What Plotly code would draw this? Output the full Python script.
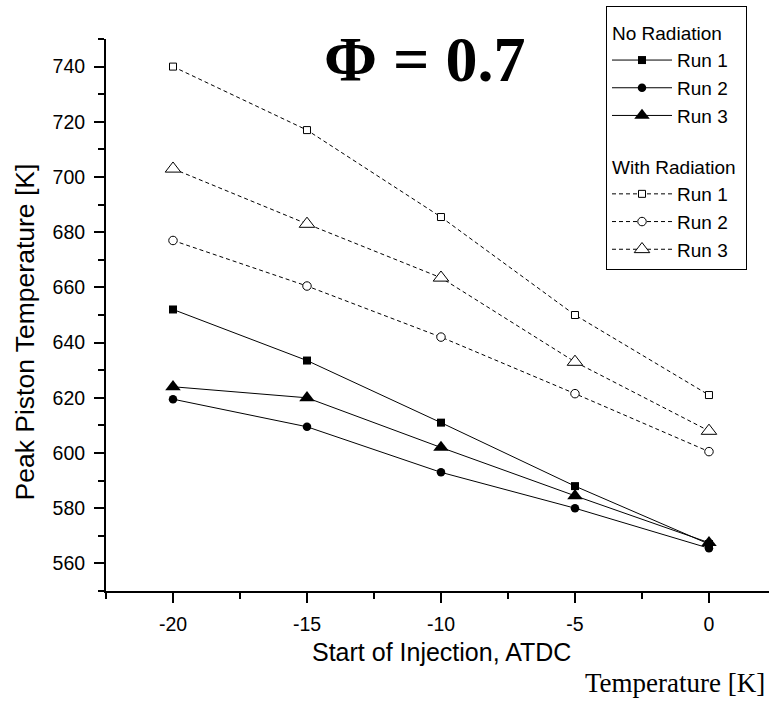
import plotly.graph_objects as go

# ---- data ----
soi = [-20, -15, -10, -5, 0]
no_rad_run1 = [652, 633.5, 611, 588, 567]
no_rad_run2 = [619.5, 609.5, 593, 580, 565.5]
no_rad_run3 = [624, 620, 602, 584.5, 567.5]
rad_run1 = [740, 717, 685.5, 650, 621]
rad_run2 = [677, 660.5, 642, 621.5, 600.5]
rad_run3 = [703, 683, 663.5, 633, 608]
run_names = ["Run 1", "Run 2", "Run 3"]
group_titles = ["No Radiation", "With Radiation"]
x_tick_vals = [-20, -15, -10, -5, 0]
x_tick_text = ["-20", "-15", "-10", "-5", "0"]
y_tick_vals = [560, 580, 600, 620, 640, 660, 680, 700, 720, 740]
y_tick_text = ["560", "580", "600", "620", "640", "660", "680", "700", "720", "740"]

W, H = 769, 709
L, R, T, B = 106, 0, 39, 118
PW, PH = W - L - R, H - T - B


def px(xp):
    return (xp - L) / PW


def py(yp):
    return (H - B - yp) / PH


SANS = "Liberation Sans"
SERIF = "Liberation Serif"

fig = go.Figure()

filled = [("square", 8), ("circle", 8.5), ("triangle-up", 13.5)]
for name, ys, (sym, sz) in zip(run_names, [no_rad_run1, no_rad_run2, no_rad_run3], filled):
    fig.add_trace(go.Scatter(
        x=soi, y=ys, name=name, mode="lines+markers",
        line=dict(color="black", width=1),
        marker=dict(symbol=sym, size=sz, color="black", line=dict(width=0)),
        legendgroup="nr", legendgrouptitle=dict(text=group_titles[0]),
    ))

opens = [("square", 7), ("circle", 8.5), ("triangle-up", 13.5)]
for name, ys, (sym, sz) in zip(run_names, [rad_run1, rad_run2, rad_run3], opens):
    fig.add_trace(go.Scatter(
        x=soi, y=ys, name=name, mode="lines+markers",
        line=dict(color="black", width=1, dash="4px,3px"),
        marker=dict(symbol=sym, size=sz, color="white", line=dict(color="black", width=1)),
        legendgroup="wr", legendgrouptitle=dict(text=group_titles[1]),
    ))

axis_common = dict(
    showline=True, linecolor="black", linewidth=2, mirror=False,
    ticks="outside", ticklen=10, tickwidth=2, tickcolor="black",
    showgrid=False, zeroline=False,
    tickfont=dict(family=SANS, size=19.5, color="black"),
    ticklabelstandoff=5,
)

fig.update_xaxes(range=[-22.5, 2.24], tickmode="array", tickvals=x_tick_vals, ticktext=x_tick_text,
                 minor=dict(tick0=0, dtick=2.5, ticklen=6, tickwidth=2, tickcolor="black", ticks="outside"),
                 **axis_common)
fig.update_yaxes(range=[550, 750], tickmode="array", tickvals=y_tick_vals, ticktext=y_tick_text,
                 minor=dict(tick0=0, dtick=10, ticklen=6, tickwidth=2, tickcolor="black", ticks="outside"),
                 **axis_common)

fig.add_annotation(text="<b>\u03a6 = 0.7</b>", x=px(424.5), y=py(60), xref="paper", yref="paper",
                   showarrow=False, xanchor="center", yanchor="middle",
                   font=dict(family=SERIF, size=64, color="black"))
fig.add_annotation(text="Start of Injection, ATDC", x=px(441), y=py(652), xref="paper", yref="paper",
                   showarrow=False, xanchor="center", yanchor="middle",
                   font=dict(family=SANS, size=25, color="black"))
fig.add_annotation(text="Peak Piston Temperature [K]", x=px(24.5), y=py(332), xref="paper", yref="paper",
                   showarrow=False, xanchor="center", yanchor="middle", textangle=-90,
                   font=dict(family=SANS, size=26.5, color="black"))
fig.add_annotation(text="Temperature [K]", x=px(767), y=py(683), xref="paper", yref="paper",
                   showarrow=False, xanchor="right", yanchor="middle",
                   font=dict(family=SERIF, size=27, color="black"))

fig.update_layout(
    width=W, height=H,
    margin=dict(l=L, r=R, t=T, b=B, pad=0),
    paper_bgcolor="white", plot_bgcolor="white",
    showlegend=True,
    legend=dict(
        x=px(606), y=py(6), xanchor="left", yanchor="top",
        bgcolor="white", bordercolor="black", borderwidth=1,
        font=dict(family=SANS, size=19, color="black"),
        grouptitlefont=dict(family=SANS, size=19, color="black"),
        title=dict(text="&nbsp;", font=dict(size=5)),
        tracegroupgap=23, itemwidth=60,
    ),
)

fig.write_html("out.html")
